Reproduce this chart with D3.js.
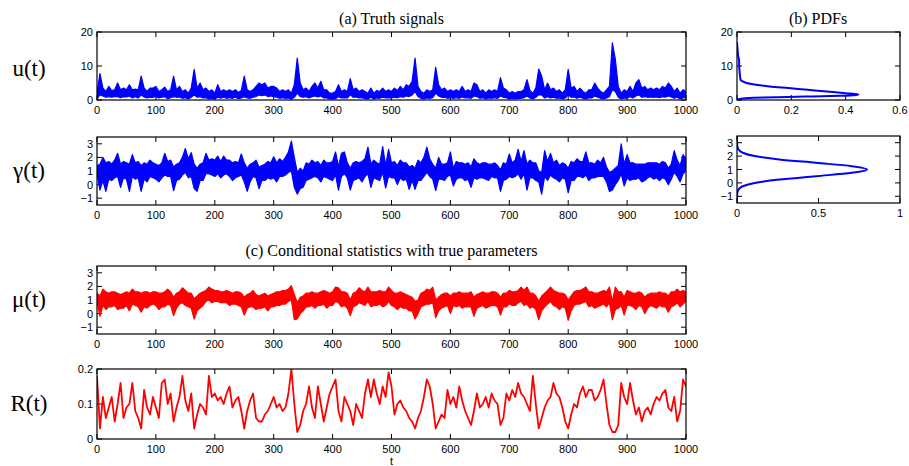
<!DOCTYPE html>
<html>
<head>
<meta charset="utf-8">
<script src="https://cdn.jsdelivr.net/npm/d3@7"></script>
<style>
  body { margin: 0; background: #fff; }
  text.tick { font-family: "Liberation Sans", Arial, sans-serif; font-size: 11px; fill: #000; }
  text.title { font-family: "Liberation Serif", "Times New Roman", serif; font-size: 16px; fill: #000; }
  text.ylab { font-family: "Liberation Serif", "Times New Roman", serif; font-size: 23px; fill: #000; }
</style>
</head>
<body>
<svg id="fig" width="909" height="466"></svg>
<script>
// Signals are recorded in 5-unit windows over t = 0 .. 1000.
// The fast signals (u, gamma, mu) keep the lowest and highest value reached in each window;
// R is slow enough to keep one value per window.
const sampleStep = 5;

const uUpper = [
 2.0,7.8,3.5,2.5,4.0,2.8,3.0,5.0,3.0,3.5,3.0,4.5,3.0,3.2,3.0,7.0,3.5,2.5,3.5,3.5,
 4.0,2.5,3.0,3.8,2.5,3.0,7.0,3.0,4.0,2.5,3.0,2.0,3.5,9.0,3.5,5.0,3.0,3.5,2.5,3.0,
 2.0,4.5,2.5,3.0,2.5,3.0,2.5,3.0,2.2,2.8,7.0,3.0,2.5,3.0,4.0,5.0,4.5,5.0,3.5,4.0,
 4.0,3.5,2.5,3.0,2.5,3.0,2.0,4.5,12.3,5.0,3.0,3.5,2.5,4.0,5.0,3.5,5.5,3.0,3.0,2.0,
 2.0,2.5,4.5,2.5,3.0,2.5,6.3,3.0,3.5,2.5,3.0,2.5,2.0,3.5,2.0,2.8,2.5,3.5,2.5,3.0,
 2.5,3.5,2.8,4.0,3.0,4.5,4.0,5.5,12.3,4.0,2.5,2.0,3.0,2.5,3.0,9.6,4.5,3.0,3.5,2.5,
 3.0,2.5,3.0,2.5,4.0,2.5,3.0,2.5,5.0,4.5,2.5,3.0,2.0,3.0,2.5,3.0,2.5,6.6,3.5,3.0,
 2.0,2.5,2.0,2.5,2.5,3.0,6.0,2.8,2.0,3.5,9.1,7.0,3.0,5.0,3.0,3.5,2.5,3.0,2.0,3.0,
 9.0,3.5,4.0,2.5,3.5,2.5,2.0,3.0,3.0,5.0,3.5,2.5,2.0,3.0,4.0,16.8,12.0,4.0,2.0,3.0,
 2.5,4.0,2.5,5.0,6.0,3.5,4.0,3.0,3.5,3.0,3.5,3.0,4.0,3.5,5.0,4.0,2.5,3.5,2.0,3.0,
 2.5
];
const uLower = [
 0.3,1.5,1.2,0.8,1.0,0.8,1.0,1.0,0.7,1.0,0.9,1.2,0.6,1.0,0.6,1.5,0.9,0.6,0.8,0.8,
 1.0,0.6,0.8,1.0,0.4,0.7,1.0,0.8,0.9,0.5,0.7,0.3,0.8,1.5,0.8,1.0,0.6,0.7,0.3,0.5,
 0.3,0.8,0.5,0.8,0.5,0.7,0.5,0.8,0.4,0.6,1.0,0.6,0.5,0.8,1.0,1.5,1.3,1.5,1.0,1.2,
 1.0,0.8,0.5,0.7,0.5,0.6,0.2,0.8,2.0,1.0,0.8,1.0,0.6,1.0,1.2,0.9,1.2,0.6,0.6,0.3,
 0.3,0.4,1.0,0.6,0.7,0.6,1.5,0.8,0.9,0.6,0.7,0.4,0.3,0.8,0.3,0.6,0.5,0.8,0.6,0.7,
 0.6,0.8,0.7,1.0,0.8,1.2,1.0,1.5,2.5,1.0,0.5,0.3,0.6,0.5,0.7,2.0,1.2,0.8,0.8,0.5,
 0.7,0.5,0.7,0.5,0.9,0.6,0.7,0.5,1.2,1.0,0.5,0.7,0.3,0.6,0.5,0.7,0.5,1.2,0.8,0.7,
 0.3,0.5,0.3,0.5,0.5,0.7,1.2,0.6,0.3,0.8,1.5,1.5,0.6,1.0,0.6,0.8,0.5,0.6,0.3,0.6,
 1.5,0.8,0.9,0.5,0.8,0.5,0.3,0.6,0.6,1.2,0.8,0.5,0.3,0.6,1.0,3.0,2.5,0.8,0.3,0.6,
 0.5,1.0,0.6,1.2,1.5,0.8,1.0,0.8,0.9,0.8,0.9,0.7,1.0,0.8,1.2,0.9,0.5,0.8,0.3,0.6,
 0.8
];

const gammaUpper = [
 1.4,1.5,2.0,1.6,1.7,1.5,1.8,2.3,1.5,1.7,1.6,1.5,2.2,1.6,1.7,1.4,1.6,1.5,1.8,1.6,
 1.5,1.4,1.6,2.3,1.7,1.8,1.3,1.5,1.6,2.0,2.65,1.9,2.35,1.5,1.2,1.5,1.6,2.3,1.8,1.9,
 1.8,2.1,1.7,2.1,1.8,1.8,1.6,1.7,1.6,2.25,1.6,1.2,1.5,1.6,1.8,1.3,1.4,1.5,1.7,1.6,
 2.05,1.6,1.9,1.7,2.0,2.4,3.2,2.0,0.9,1.2,1.0,1.6,1.5,1.8,1.6,1.7,1.4,1.8,1.6,1.6,
 1.7,2.4,1.3,2.3,2.4,1.6,1.2,1.6,1.7,1.6,1.7,1.9,2.75,1.5,1.8,1.6,1.5,2.8,1.4,2.6,
 1.6,1.7,1.4,1.8,1.6,1.6,1.3,1.4,1.2,1.8,1.6,2.0,2.75,1.9,1.5,1.2,2.0,1.5,1.5,1.6,
 2.4,1.2,1.7,1.6,1.6,1.5,1.6,1.3,1.9,1.6,1.5,1.6,1.6,1.5,1.5,1.6,1.4,1.1,1.6,1.5,
 2.25,1.6,1.8,2.6,1.7,2.5,1.5,1.8,1.6,1.6,1.0,0.9,2.5,1.7,2.3,1.6,1.8,1.4,1.6,1.5,
 1.2,1.7,1.6,1.9,1.7,1.7,2.4,1.6,1.6,1.5,1.8,1.6,2.0,1.3,0.9,1.0,1.2,1.4,3.0,1.5,
 2.2,1.6,1.6,1.5,1.5,1.5,1.5,1.6,1.6,1.6,1.6,1.5,1.7,1.6,1.2,1.5,2.5,1.8,1.4,2.2,
 1.9
];
const gammaLower = [
 0.8,-0.4,0.3,-0.5,0.4,0.3,0.5,0.6,-0.2,0.5,0.4,-0.5,0.6,0.4,0.5,-0.5,0.4,0.2,0.6,0.5,
 0.4,0.2,0.5,0.7,0.6,0.6,-0.45,0.3,0.4,0.7,0.9,0.5,0.6,-0.3,-0.5,0.3,0.3,0.8,0.8,0.7,
 0.6,0.8,0.5,0.7,0.8,0.6,0.3,0.5,0.6,0.7,0.2,-0.5,0.2,0.6,0.5,-0.3,0.3,0.3,0.5,0.4,
 0.5,0.2,0.6,0.6,0.7,0.9,1.0,-0.2,-0.7,-0.3,-0.2,0.3,0.4,0.5,0.6,0.5,0.2,0.6,0.5,0.4,
 0.3,0.7,-0.4,0.6,0.8,0.5,-0.4,0.3,0.4,0.5,0.2,0.6,0.8,-0.2,0.5,0.4,0.3,0.9,-0.25,0.6,
 0.5,0.5,0.0,0.5,0.3,0.4,-0.35,0.3,-0.35,0.3,0.3,0.6,0.9,0.6,0.4,-0.45,0.4,0.4,0.3,0.6,
 0.7,-0.1,0.4,0.5,0.5,0.3,0.4,-0.2,0.5,0.4,0.5,0.5,0.4,0.3,0.6,0.5,0.5,-0.5,0.3,0.4,
 0.6,0.5,0.6,0.8,0.4,0.8,-0.4,0.5,0.5,0.3,0.2,-0.7,0.6,0.3,0.7,0.5,0.4,0.2,0.5,0.4,
 -0.6,0.3,0.3,0.6,0.6,0.5,0.7,0.3,0.5,0.5,0.6,0.6,0.6,0.2,-0.5,-0.4,0.0,0.3,0.8,-0.1,
 0.5,0.3,0.4,0.4,0.5,0.2,0.3,0.5,0.6,0.4,0.5,0.3,0.5,0.4,0.0,0.4,0.9,0.6,0.2,0.8,
 1.0
];

const muUpper = [
 1.5,1.3,1.8,1.6,1.5,1.6,1.6,1.5,1.4,1.5,1.6,1.5,1.8,1.6,1.6,1.5,1.6,1.6,1.5,1.6,
 1.6,1.5,1.5,1.6,1.8,1.6,1.2,1.5,1.6,1.9,1.7,1.5,1.5,1.1,1.3,1.5,1.6,1.7,1.95,1.8,
 1.7,1.7,1.6,1.6,1.7,1.6,1.5,1.6,1.6,1.5,1.2,1.4,1.5,1.7,1.4,1.3,1.4,1.5,1.3,1.4,
 1.5,1.6,1.6,1.7,1.7,1.8,2.05,1.4,0.8,1.2,1.3,1.5,1.5,1.6,1.5,1.5,1.6,1.7,1.6,1.5,
 1.6,1.95,1.9,1.6,1.6,1.5,1.0,1.5,1.6,1.9,1.7,1.6,1.95,1.6,1.6,1.6,1.7,1.6,1.6,1.95,
 1.7,1.5,1.5,1.6,1.5,1.4,1.3,1.2,0.9,1.0,1.5,1.6,1.8,1.7,1.95,1.0,1.2,1.4,1.5,1.5,
 1.3,1.5,1.5,1.6,1.5,1.5,1.5,1.6,1.2,1.4,1.5,1.6,1.5,1.5,1.6,1.6,1.5,1.2,1.5,1.5,
 1.7,1.6,1.6,1.7,1.95,1.7,1.95,1.5,1.5,1.3,0.9,1.3,1.5,1.7,1.95,1.7,1.6,1.5,1.5,1.4,
 1.0,1.3,1.6,1.7,1.7,1.8,1.95,1.6,1.6,1.5,1.5,1.6,1.7,1.6,1.95,0.9,1.95,1.6,1.6,1.2,
 1.7,1.6,1.5,1.5,1.6,1.5,1.2,1.4,1.5,1.5,1.5,1.6,1.5,1.5,1.3,1.6,1.6,1.8,1.6,1.7,
 1.6
];
const muLower = [
 0.9,-0.2,0.6,0.3,0.5,0.5,0.6,0.3,0.4,0.4,0.6,0.2,0.7,0.6,0.5,0.1,0.5,0.4,0.6,0.7,
 0.6,0.3,0.5,0.5,0.7,0.6,-0.15,0.4,0.7,0.8,0.6,0.5,0.4,-0.4,0.2,0.4,0.6,0.9,1.0,0.8,
 0.9,0.9,0.8,0.8,0.8,0.6,0.7,0.7,0.6,0.5,-0.1,0.4,0.5,0.5,0.3,0.4,0.4,0.5,0.2,0.5,
 0.5,0.6,0.6,0.7,0.7,0.9,1.0,-0.45,-0.4,0.0,0.2,0.5,0.5,0.6,0.4,0.6,0.6,0.7,0.4,0.6,
 0.6,0.9,0.8,0.5,0.6,0.4,-0.15,0.5,0.6,0.8,0.7,0.6,0.9,0.5,0.6,0.6,0.7,0.5,0.6,0.9,
 0.6,0.5,0.3,0.5,0.4,0.4,0.2,0.2,-0.4,0.0,0.5,0.6,0.7,0.7,0.8,-0.3,0.2,0.4,0.5,0.6,
 0.0,0.6,0.5,0.6,0.4,0.5,0.5,0.5,-0.2,0.4,0.5,0.6,0.4,0.5,0.6,0.6,0.5,-0.1,0.5,0.5,
 0.7,0.6,0.6,0.8,0.9,0.6,0.7,0.4,0.5,0.3,-0.45,0.2,0.5,0.7,0.9,0.6,0.5,0.3,0.5,0.4,
 -0.5,0.2,0.6,0.7,0.7,0.8,0.9,0.5,0.6,0.4,0.5,0.6,0.7,0.5,0.8,-0.45,0.3,0.4,0.6,-0.1,
 0.6,0.6,0.5,0.3,0.6,0.5,0.0,0.4,0.6,0.5,0.4,0.6,0.5,0.5,0.1,0.5,0.6,0.8,0.5,0.7,
 0.9
];

const rSeries = [
 0.18,0.03,0.12,0.06,0.09,0.12,0.05,0.10,0.16,0.06,0.09,0.10,0.16,0.08,0.06,0.03,0.14,0.09,0.07,0.12,
 0.09,0.06,0.16,0.17,0.10,0.13,0.05,0.09,0.12,0.18,0.11,0.08,0.13,0.03,0.07,0.10,0.09,0.07,0.18,0.12,
 0.13,0.11,0.12,0.10,0.13,0.15,0.09,0.11,0.12,0.08,0.03,0.08,0.11,0.13,0.06,0.05,0.05,0.07,0.08,0.10,
 0.12,0.09,0.10,0.08,0.09,0.13,0.20,0.10,0.02,0.04,0.08,0.10,0.15,0.09,0.06,0.15,0.10,0.05,0.09,0.13,
 0.15,0.17,0.08,0.05,0.12,0.10,0.08,0.04,0.10,0.08,0.06,0.13,0.17,0.12,0.17,0.13,0.10,0.15,0.12,0.19,
 0.15,0.07,0.10,0.11,0.09,0.08,0.06,0.05,0.03,0.06,0.08,0.12,0.17,0.15,0.10,0.03,0.05,0.07,0.06,0.14,
 0.10,0.12,0.09,0.15,0.11,0.08,0.06,0.04,0.08,0.13,0.09,0.10,0.12,0.09,0.13,0.11,0.10,0.04,0.06,0.13,
 0.11,0.14,0.12,0.16,0.13,0.12,0.10,0.08,0.18,0.10,0.03,0.06,0.09,0.11,0.12,0.16,0.13,0.12,0.09,0.05,
 0.03,0.07,0.10,0.09,0.13,0.15,0.12,0.14,0.14,0.11,0.12,0.14,0.17,0.10,0.04,0.02,0.02,0.04,0.16,0.12,
 0.10,0.16,0.11,0.07,0.09,0.05,0.08,0.09,0.07,0.10,0.12,0.11,0.13,0.14,0.09,0.08,0.12,0.05,0.08,0.17,
 0.15
];

// Probability density of u: level and density
const uPdfLevels  = [0, 0.25, 0.5, 0.75, 1.0, 1.25, 1.5, 1.6, 2.0, 2.5, 3.0, 3.5, 4.0, 4.5, 5.0, 5.5, 6, 7, 8, 9, 10, 11, 12, 13, 14, 15, 16, 17];
const uPdfDensity = [0, 0.005, 0.03, 0.10, 0.25, 0.38, 0.44, 0.447, 0.40, 0.33, 0.26, 0.19, 0.12, 0.07, 0.035, 0.02, 0.013, 0.011, 0.010, 0.009, 0.008, 0.008, 0.007, 0.004, 0.003, 0.002, 0.001, 0.0];

// Probability density of gamma
const gPdfLevels  = [-1.5, -1.25, -1.0, -0.75, -0.5, -0.25, 0, 0.25, 0.5, 0.75, 1.0, 1.25, 1.5, 1.75, 2.0, 2.25, 2.5, 2.75, 3.0, 3.25, 3.5];
const gPdfDensity = [0.0, 0.0, 0.0003, 0.002, 0.009, 0.035, 0.108, 0.259, 0.484, 0.704, 0.798, 0.704, 0.484, 0.259, 0.108, 0.035, 0.009, 0.002, 0.0003, 0.0, 0.0];

const timeTicks = [0, 100, 200, 300, 400, 500, 600, 700, 800, 900, 1000];
const uTicks = [0, 10, 20];
const gammaTicks = [-1, 0, 1, 2, 3];
const rTicks = [0, 0.1, 0.2];
const uPdfTicks = [0, 0.2, 0.4, 0.6];
const gPdfTicks = [0, 0.5, 1];

const svg = d3.select('#fig');
const fmtSigned = d => d < 0 ? '\u2212' + Math.abs(d) : String(d);

let clipCount = 0;
function makePanel(o) {
  const x = d3.scaleLinear().domain(o.xDomain).range([o.left, o.right]);
  const y = d3.scaleLinear().domain(o.yDomain).range([o.bottom, o.top]);
  const g = svg.append('g');
  const tl = 5;
  // tick marks on all four sides, pointing inward
  o.xTicks.forEach(v => {
    const px = x(v);
    g.append('line').attr('x1', px).attr('x2', px).attr('y1', o.bottom).attr('y2', o.bottom - tl).attr('stroke', '#000');
    g.append('line').attr('x1', px).attr('x2', px).attr('y1', o.top).attr('y2', o.top + tl).attr('stroke', '#000');
    g.append('text').attr('class', 'tick').attr('x', px).attr('y', o.bottom + 14)
      .attr('text-anchor', 'middle').text(fmtSigned(v));
  });
  o.yTicks.forEach(v => {
    const py = y(v);
    g.append('line').attr('x1', o.left).attr('x2', o.left + tl).attr('y1', py).attr('y2', py).attr('stroke', '#000');
    g.append('line').attr('x1', o.right).attr('x2', o.right - tl).attr('y1', py).attr('y2', py).attr('stroke', '#000');
    g.append('text').attr('class', 'tick').attr('x', o.left - 4).attr('y', py + 4)
      .attr('text-anchor', 'end').text(fmtSigned(v));
  });
  const id = 'clip' + (clipCount++);
  svg.append('clipPath').attr('id', id).append('rect')
    .attr('x', o.left).attr('y', o.top).attr('width', o.right - o.left).attr('height', o.bottom - o.top);
  const plot = g.append('g').attr('clip-path', `url(#${id})`);
  g.append('rect').attr('x', o.left).attr('y', o.top).attr('width', o.right - o.left).attr('height', o.bottom - o.top)
    .attr('fill', 'none').attr('stroke', '#000').attr('stroke-width', 1.2);
  return { x, y, plot };
}

// fast signal: band between the window minimum and maximum
function drawTrace(p, lower, upper, color) {
  const area = d3.area()
    .x((d, i) => p.x(i * sampleStep))
    .y0((d, i) => p.y(lower[i]))
    .y1((d, i) => p.y(upper[i]));
  p.plot.append('path').datum(upper).attr('d', area)
    .attr('fill', color).attr('stroke', color).attr('stroke-width', 1.2).attr('stroke-linejoin', 'round');
}

function drawSeries(p, values, color, width) {
  const line = d3.line().x((d, i) => p.x(i * sampleStep)).y(d => p.y(d));
  p.plot.append('path').datum(values).attr('d', line)
    .attr('fill', 'none').attr('stroke', color).attr('stroke-width', width).attr('stroke-linejoin', 'round');
}

function drawPdf(p, levels, dens, color) {
  const pts = levels.map((l, i) => [dens[i], l]);
  const line = d3.line().x(d => p.x(d[0])).y(d => p.y(d[1])).curve(d3.curveMonotoneY);
  p.plot.append('path').datum(pts).attr('d', line)
    .attr('fill', 'none').attr('stroke', color).attr('stroke-width', 2);
}

const L = 97, R = 686;
const blue = '#0000ff', red = '#ff0000';

const pU = makePanel({ left: L, right: R, top: 32, bottom: 100, xDomain: [0, 1000], yDomain: [0, 20], xTicks: timeTicks, yTicks: uTicks });
drawTrace(pU, uLower, uUpper, blue);

const pG = makePanel({ left: L, right: R, top: 137, bottom: 205, xDomain: [0, 1000], yDomain: [-1.5, 3.5], xTicks: timeTicks, yTicks: gammaTicks });
drawTrace(pG, gammaLower, gammaUpper, blue);

const pM = makePanel({ left: L, right: R, top: 266, bottom: 334, xDomain: [0, 1000], yDomain: [-1.5, 3.5], xTicks: timeTicks, yTicks: gammaTicks });
drawTrace(pM, muLower, muUpper, red);

const pR = makePanel({ left: L, right: R, top: 369, bottom: 439, xDomain: [0, 1000], yDomain: [0, 0.2], xTicks: timeTicks, yTicks: rTicks });
drawSeries(pR, rSeries, red, 1.8);

const pPu = makePanel({ left: 737, right: 900, top: 32, bottom: 100, xDomain: [0, 0.6], yDomain: [0, 20], xTicks: uPdfTicks, yTicks: uTicks });
drawPdf(pPu, uPdfLevels, uPdfDensity, blue);

const pPg = makePanel({ left: 737, right: 900, top: 136, bottom: 203, xDomain: [0, 1], yDomain: [-1.5, 3.5], xTicks: gPdfTicks, yTicks: gammaTicks });
drawPdf(pPg, gPdfLevels, gPdfDensity, blue);

// panel titles
svg.append('text').attr('class', 'title').attr('x', (L + R) / 2).attr('y', 24).attr('text-anchor', 'middle').text('(a)  Truth signals');
svg.append('text').attr('class', 'title').attr('x', 818).attr('y', 24).attr('text-anchor', 'middle').text('(b)  PDFs');
svg.append('text').attr('class', 'title').attr('x', (L + R) / 2).attr('y', 256).attr('text-anchor', 'middle').text('(c)  Conditional statistics with true parameters');

// row labels
const rowLabels = [['u(t)', 76], ['\u03b3(t)', 178], ['\u03bc(t)', 307], ['R(t)', 411]];
rowLabels.forEach(([s, yy]) => {
  svg.append('text').attr('class', 'ylab').attr('x', 29).attr('y', yy).attr('text-anchor', 'middle').text(s);
});

// time axis label
svg.append('text').attr('class', 'tick').attr('x', (L + R) / 2).attr('y', 465).attr('text-anchor', 'middle').text('t');
</script>
</body>
</html>
